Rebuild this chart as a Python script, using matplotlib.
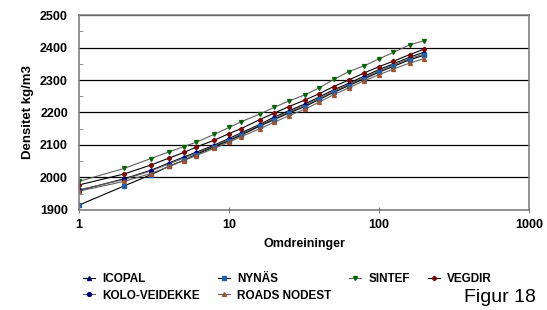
""" density vs. number of gyrations for six binder suppliers (Figur 18) """

from matplotlib import pyplot as plt
from matplotlib.ticker import FixedLocator, MultipleLocator, NullLocator

plt.rcParams["font.family"] = ["Liberation Sans", "DejaVu Sans"]

omdreininger = [1, 2, 3, 4, 5, 6, 8, 10, 12, 16, 20, 25, 32, 40, 50, 63, 80, 100, 125, 160, 200]

icopal = [1960, 1996, 2022, 2045, 2063, 2077, 2100, 2120, 2137, 2163, 2186, 2205, 2226, 2248, 2270,
          2290, 2312, 2332, 2350, 2370, 2386]
kolo_veidekke = [1962, 1994, 2020, 2042, 2060, 2074, 2097, 2117, 2133, 2160, 2182, 2201, 2222, 2244, 2266,
                 2286, 2308, 2328, 2346, 2366, 2380]
nynas = [1915, 1974, 2008, 2035, 2053, 2070, 2095, 2113, 2130, 2158, 2178, 2198, 2218, 2240, 2262,
         2283, 2304, 2324, 2342, 2362, 2376]
roads_nodest = [1958, 1988, 2012, 2034, 2052, 2067, 2090, 2109, 2125, 2150, 2170, 2190, 2210, 2232, 2255,
                2276, 2298, 2316, 2334, 2352, 2366]
sintef = [1988, 2028, 2058, 2079, 2095, 2108, 2133, 2154, 2171, 2195, 2216, 2235, 2254, 2276, 2302,
          2326, 2344, 2365, 2385, 2408, 2421]
vegdir = [1977, 2011, 2038, 2060, 2077, 2093, 2115, 2135, 2150, 2178, 2198, 2218, 2238, 2258, 2280,
          2300, 2322, 2341, 2358, 2378, 2395]

# legend order is column-wise: ICOPAL/KOLO, NYNÄS/ROADS, SINTEF, VEGDIR
series = [
	("ICOPAL", icopal, "^", "#000080", "#000000"),
	("KOLO-VEIDEKKE", kolo_veidekke, "o", "#000080", "#606060"),
	("NYNÄS", nynas, "s", "#1f5fa8", "#000000"),
	("ROADS NODEST", roads_nodest, "^", "#a0522d", "#606060"),
	("SINTEF", sintef, "v", "#006400", "#606060"),
	("VEGDIR", vegdir, "P", "#800000", "#000000"),
]

fig = plt.figure(figsize=(5.47, 3.10), dpi=100)
ax = fig.add_axes([0.1444, 0.3226, 0.8226, 0.629])

for label, values, marker, mcolor, lcolor in series:
	ax.plot(omdreininger, values, color=lcolor, linewidth=0.8, marker=marker, markersize=2.8,
	        markerfacecolor=mcolor, markeredgecolor=mcolor, label=label)

ax.set_xscale("log")
ax.set_xlim(1, 1000)
ax.set_ylim(1900, 2500)
ax.xaxis.set_major_locator(FixedLocator([1, 10, 100, 1000]))
ax.xaxis.set_minor_locator(NullLocator())
ax.set_xticklabels(["1", "10", "100", "1000"])
ax.yaxis.set_major_locator(MultipleLocator(100))
ax.yaxis.set_minor_locator(MultipleLocator(50))
ax.tick_params(axis="x", direction="inout", length=5, color="#808080", labelsize=9, pad=4)
ax.tick_params(axis="y", which="major", length=0, labelsize=9, pad=8)
ax.tick_params(axis="y", which="minor", direction="in", length=3, color="#808080")
for tick in ax.get_xticklabels() + ax.get_yticklabels():
	tick.set_fontweight("bold")

ax.grid(axis="y", which="major", color="black", linewidth=0.9)
for spine in ax.spines.values():
	spine.set_color("#808080")
	spine.set_linewidth(1.2)

ax.set_xlabel("Omdreininger", fontsize=9, fontweight="bold", labelpad=5)
ax.set_ylabel("Densitet kg/m3", fontsize=9.5, fontweight="bold", labelpad=4)

fig.legend(loc="upper left", bbox_to_anchor=(0.152, 0.12), ncol=4, frameon=False,
           prop={"weight": "bold", "size": 8.5}, handlelength=1.0, handletextpad=0.6,
           columnspacing=1.55, labelspacing=0.4, borderaxespad=0, borderpad=0)

fig.text(0.848, 0.025, "Figur 18", fontsize=14)

fig.savefig("out.png", dpi=100)
